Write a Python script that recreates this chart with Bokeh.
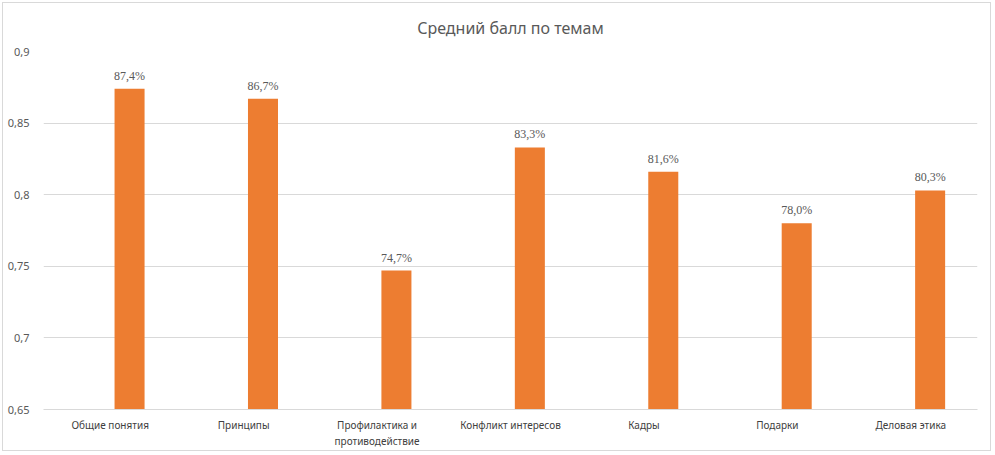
from bokeh.plotting import figure
from bokeh.models import ColumnDataSource, FactorRange, Range1d, FixedTicker, CustomJSTickFormatter, LabelSet
from bokeh.transform import dodge
from bokeh.embed import file_html
from bokeh.resources import INLINE

# data
topics = ["Общие понятия", "Принципы", "Профилактика и\nпротиводействие",
          "Конфликт интересов", "Кадры", "Подарки", "Деловая этика"]
scores = [0.874, 0.867, 0.747, 0.833, 0.816, 0.780, 0.803]
score_labels = ["87,4%", "86,7%", "74,7%", "83,3%", "81,6%", "78,0%", "80,3%"]
y_ticks = [0.65, 0.7, 0.75, 0.8, 0.85, 0.9]

src = ColumnDataSource(data=dict(topic=topics, score=scores, label=score_labels))

p = figure(x_range=FactorRange(*topics, range_padding=0), y_range=Range1d(0.65, 0.9),
           width=989, height=449, output_backend="svg", toolbar_location=None,
           min_border_left=40, min_border_right=15, min_border_top=48, min_border_bottom=43,
           title="Средний балл по темам")
p.styles = {"border": "1px solid #d9d9d9", "margin": "2px 0 0 2px"}

p.title.align = "center"
p.title.vertical_align = "top"
p.title.text_font = "Noto Sans"
p.title.text_font_size = "16px"
p.title.text_font_style = "normal"
p.title.text_line_height = 0.9
p.title.text_color = "#595959"
p.title.standoff = 22

p.outline_line_color = None
p.xgrid.grid_line_color = None
p.ygrid.grid_line_color = "#d9d9d9"
p.ygrid.ticker = FixedTicker(ticks=y_ticks)

p.vbar(x=dodge("topic", 0.145, range=p.x_range), top="score", bottom=0.65, width=0.225,
       source=src, fill_color="#ed7d31", line_color=None)

p.add_layout(LabelSet(x=dodge("topic", 0.145, range=p.x_range), y="score", text="label",
                      source=src, y_offset=9, text_align="center", text_baseline="alphabetic",
                      text_font_size="12px", text_font="Noto Sans", text_color="#595959"))

p.yaxis.ticker = FixedTicker(ticks=y_ticks)
p.yaxis.formatter = CustomJSTickFormatter(
    code="var s = tick.toFixed(2); if (s.slice(-1) == '0') s = s.slice(0, -1); return s.replace('.', ',');")
p.yaxis.axis_line_color = None
p.yaxis.major_tick_line_color = None
p.yaxis.minor_tick_line_color = None
p.yaxis.major_label_standoff = 8
p.yaxis.major_label_text_font = "Noto Sans"
p.yaxis.major_label_text_font_size = "11px"
p.yaxis.major_label_text_color = "#595959"

p.xaxis.axis_line_color = "#d9d9d9"
p.xaxis.major_tick_line_color = None
p.xaxis.minor_tick_line_color = None
p.xaxis.major_label_standoff = 2
p.xaxis.major_label_text_font = "Noto Sans"
p.xaxis.major_label_text_font_size = "10px"
p.xaxis.major_label_text_color = "#404040"

open("out.html", "w").write(file_html(p, INLINE))
